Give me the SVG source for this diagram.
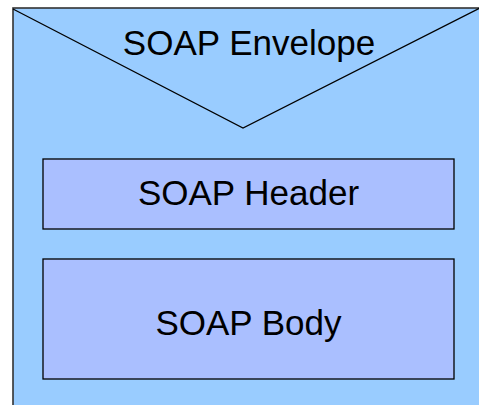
<svg xmlns="http://www.w3.org/2000/svg" width="479" height="405" viewBox="0 0 479 405">
<style>
.lbl{font-family:"Liberation Sans",Arial,sans-serif;font-size:35px;fill:#000;text-anchor:middle}
.box{fill:#AABFFF;stroke:#000;stroke-width:1.3}
</style>
<rect width="479" height="405" fill="#fff"/>
<g id="envelope">
<rect x="13" y="8" width="480" height="410" fill="#99CCFF" stroke="#333" stroke-width="1.6"/>
<polyline points="13,9 243,128 480,8" fill="none" stroke="#000" stroke-width="1.3"/>
<text class="lbl" x="249" y="55">SOAP Envelope</text>
</g>
<g id="header">
<rect class="box" x="43" y="159" width="411" height="70"/>
<text class="lbl" x="248.5" y="205">SOAP Header</text>
</g>
<g id="body">
<rect class="box" x="43" y="259" width="411" height="120"/>
<text class="lbl" x="248.5" y="335">SOAP Body</text>
</g>
<g id="connectors"/>
</svg>
